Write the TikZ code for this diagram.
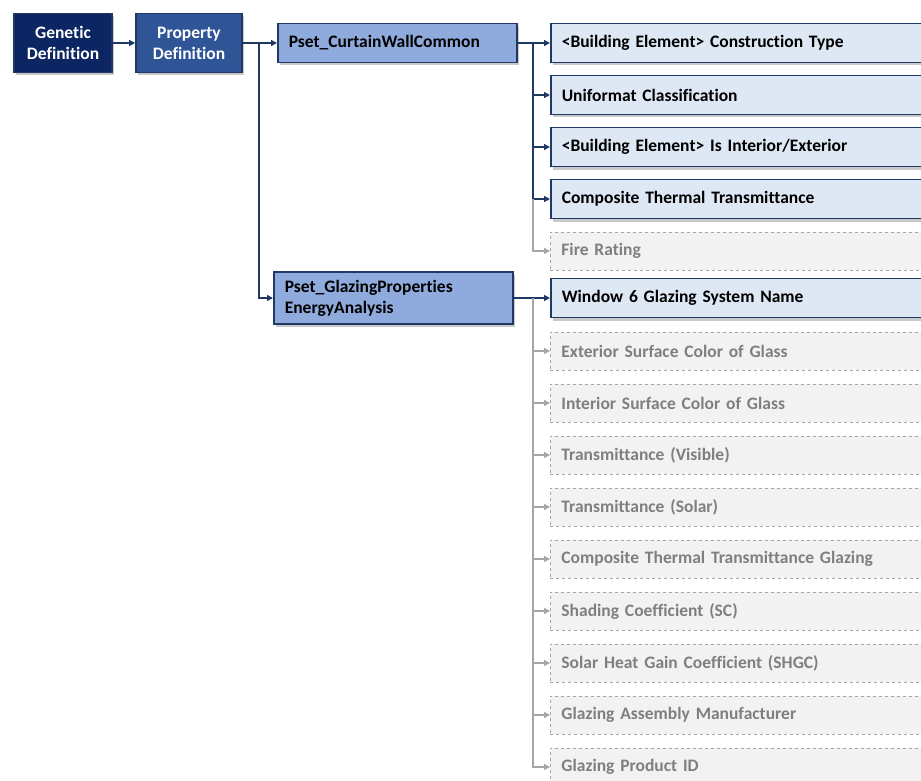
\documentclass[tikz,border=0pt]{standalone}
\usepackage{fontspec}
\setmainfont{Carlito}[RawFeature=-liga]
\usepackage{tikz}
\usetikzlibrary{positioning}
\usetikzlibrary{arrows.meta}
\usetikzlibrary{shadows}
\definecolor{navy}{HTML}{1F3864}
\definecolor{genblue}{HTML}{0B2662}
\definecolor{propblue}{HTML}{2F5597}
\definecolor{psetblue}{HTML}{8FAADC}
\definecolor{attrblue}{HTML}{DEE7F4}
\definecolor{optgray}{HTML}{F2F2F2}
\definecolor{optline}{HTML}{A6A6A6}
\definecolor{opttext}{HTML}{7F7F7F}

\begin{document}
\begin{tikzpicture}
  [ x=1pt, y=-1pt,
    box/.style={draw=navy, line width=1.6pt, font=\bfseries\fontsize{17.5}{21}\selectfont,
      drop shadow={shadow xshift=2pt, shadow yshift=-3pt, opacity=0.3, fill=black!70}},
    head/.style={box, text=white, align=center, minimum height=59pt, inner sep=0pt},
    pset/.style={box, fill=psetblue, anchor=west, align=left, inner xsep=11pt},
    attr/.style={box, fill=attrblue, anchor=west, align=left, text width=380pt,
      minimum height=39pt, inner xsep=11pt},
    opt/.style={draw=optline, dashed, line width=0.9pt, fill=optgray, text=opttext,
      font=\bfseries\fontsize{17.5}{21}\selectfont, anchor=west, align=left,
      text width=380pt, minimum height=38pt, inner xsep=11pt},
    ld/.style={draw=navy, line width=1.3pt, -{Triangle[length=6pt,width=6pt]}},
    lo/.style={draw=optline, line width=1.3pt, -{Triangle[length=6pt,width=6pt]}}
  ]
  \useasboundingbox (0,0) rectangle (921,781);
  \clip (0,0) rectangle (921,781);

  \node (gen)  at ( 63,43) [head, fill=genblue, minimum width=98pt]  {Genetic\\Definition};
  \node (prop) at (189,43) [head, fill=propblue, minimum width=106pt] {Property\\Definition};
  \node (cwc)  at (277,43) [pset, text width=217pt, minimum height=39pt] {Pset\_CurtainWallCommon};
  \node (gpe)  at (273,298) [pset, text width=217pt, minimum height=52pt] {Pset\_GlazingProperties\\EnergyAnalysis};

  \node (a01) at (550, 43) [attr] {<Building Element> Construction Type};
  \node (a02) at (550, 95) [attr] {Uniformat Classification};
  \node (a03) at (550,147) [attr] {<Building Element> Is Interior/Exterior};
  \node (a04) at (550,199) [attr] {Composite Thermal Transmittance};
  \node (a05) at (550,251) [opt]  {Fire Rating};

  \node (b01) at (550,298) [attr] {Window 6 Glazing System Name};
  \node (b02) at (550,351) [opt]  {Exterior Surface Color of Glass};
  \node (b03) at (550,403) [opt]  {Interior Surface Color of Glass};
  \node (b04) at (550,455) [opt]  {Transmittance (Visible)};
  \node (b05) at (550,507) [opt]  {Transmittance (Solar)};
  \node (b06) at (550,559) [opt]  {Composite Thermal Transmittance Glazing};
  \node (b07) at (550,611) [opt]  {Shading Coefficient (SC)};
  \node (b08) at (550,663) [opt]  {Solar Heat Gain Coefficient (SHGC)};
  \node (b09) at (550,715) [opt]  {Glazing Assembly Manufacturer};
  \node (b10) at (550,767) [opt]  {Glazing Product ID};

  \coordinate (jp) at (259,43);
  \coordinate (jc) at (533,43);
  \coordinate (jg) at (533,298);

  \draw [ld] (gen.east) -- (prop.west);
  \draw [ld] (prop.east) -- (cwc.west);
  \draw [ld] (jp) |- (gpe.west);

  \draw [ld] (cwc.east) -- (a01.west);
  \draw [ld] (jc) |- (a02.west);
  \draw [ld] (jc) |- (a03.west);
  \draw [ld] (jc) |- (a04.west);
  \draw [lo] (jc |- a04.west) |- (a05.west);

  \draw [ld] (gpe.east) -- (b01.west);
  \draw [lo] (jg) |- (b02.west);
  \draw [lo] (jg) |- (b03.west);
  \draw [lo] (jg) |- (b04.west);
  \draw [lo] (jg) |- (b05.west);
  \draw [lo] (jg) |- (b06.west);
  \draw [lo] (jg) |- (b07.west);
  \draw [lo] (jg) |- (b08.west);
  \draw [lo] (jg) |- (b09.west);
  \draw [lo] (jg) |- (b10.west);
\end{tikzpicture}
\end{document}
